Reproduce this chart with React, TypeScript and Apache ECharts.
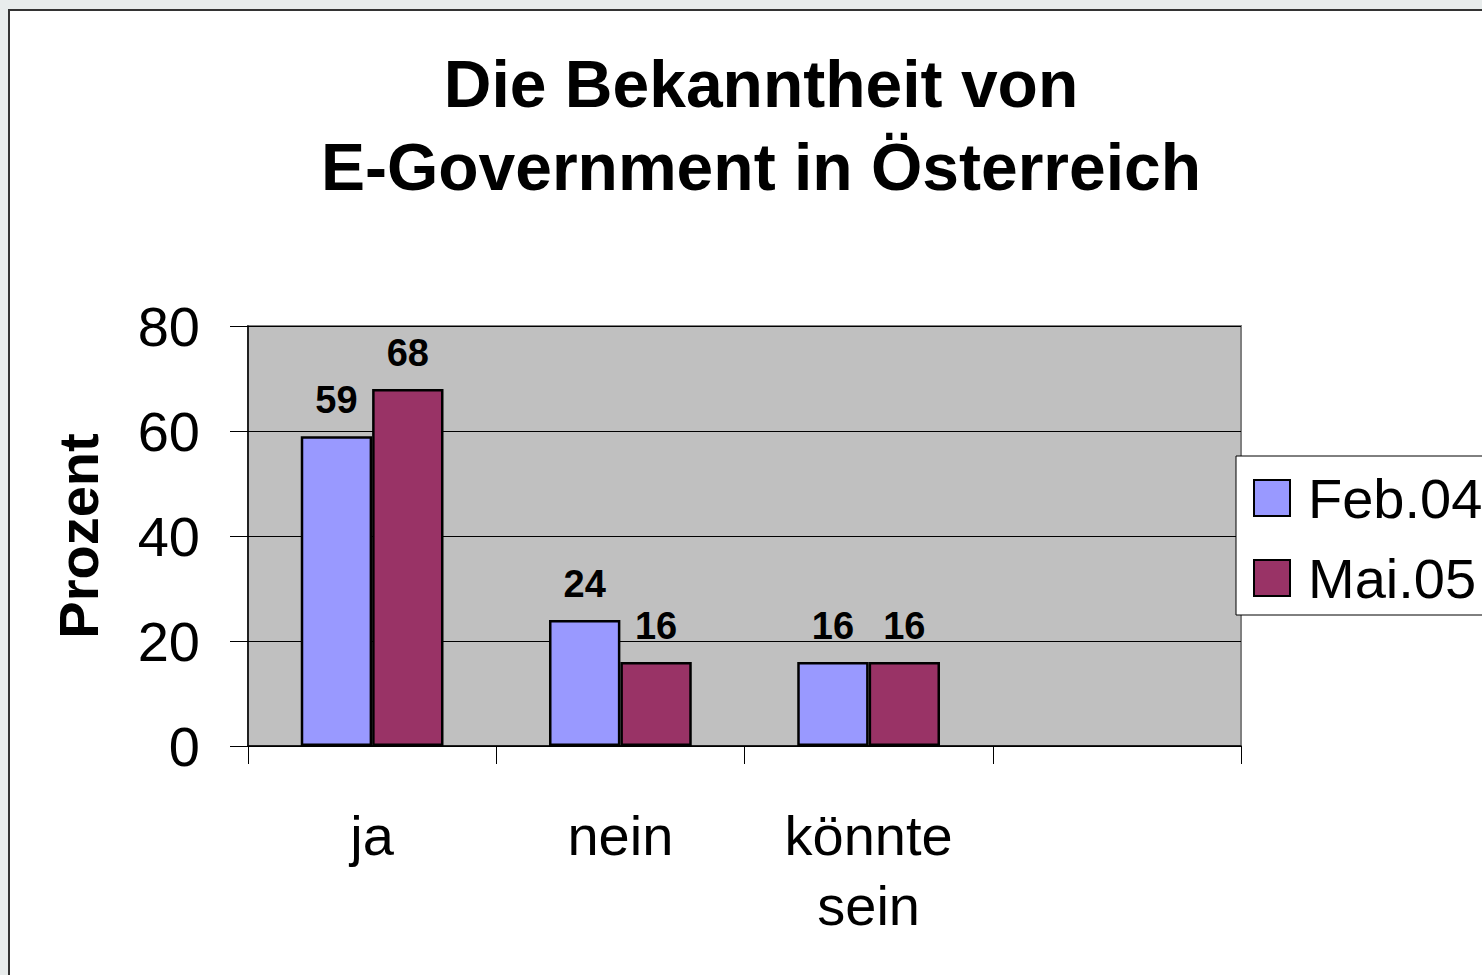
import React, { useEffect, useRef } from "react";
import * as echarts from "echarts";

const categories = ["ja", "nein", "könnte\nsein", ""];
const seriesNames = ["Feb.04", "Mai.05"];
const feb04 = [59, 24, 16, null];
const mai05 = [68, 16, 16, null];
const yTicks = { min: 0, max: 80, interval: 20 };
const titleText = "Die Bekanntheit von\nE-Government in Österreich";
const yAxisName = "Prozent";

const FONT = "'Liberation Sans', Arial, sans-serif";

export default function App() {
  const ref = useRef<HTMLDivElement>(null);
  useEffect(() => {
    if (!ref.current) return;
    const chart = echarts.init(ref.current, null, { renderer: "svg" });
    const labelStyle = {
      show: true,
      position: "top",
      distance: 17,
      fontFamily: FONT,
      fontSize: 38,
      fontWeight: "bold",
      color: "#000",
    };
    chart.setOption({
      animation: false,
      backgroundColor: "transparent",
      title: {
        text: titleText,
        left: 756,
        textAlign: "center",
        top: 37,
        textStyle: {
          fontFamily: FONT,
          fontSize: 66,
          fontWeight: "bold",
          color: "#000",
          lineHeight: 83,
        },
      },
      legend: {
        orient: "vertical",
        left: 1236,
        top: 456,
        data: seriesNames,
        itemWidth: 36,
        itemHeight: 36,
        itemGap: 24,
        icon: "rect",
        padding: [14, 60, 9, 17],
        borderColor: "#000",
        borderWidth: 1,
        backgroundColor: "#fff",
        textStyle: {
          fontFamily: FONT,
          fontSize: 56,
          lineHeight: 56,
          color: "#000",
          padding: [0, 0, 0, 13],
        },
      },
      grid: {
        left: 248,
        right: 1482 - 1241,
        top: 326,
        bottom: 975 - 746,
        show: true,
        backgroundColor: "#C0C0C0",
        borderColor: "#808080",
        borderWidth: 2,
      },
      xAxis: {
        type: "category",
        data: categories,
        axisLine: { show: true, lineStyle: { color: "#000", width: 1.5 } },
        axisTick: { show: true, length: 18, lineStyle: { color: "#000", width: 1 } },
        axisLabel: {
          fontFamily: FONT,
          fontSize: 56,
          color: "#000",
          margin: 54,
          lineHeight: 70,
        },
      },
      yAxis: {
        type: "value",
        min: yTicks.min,
        max: yTicks.max,
        interval: yTicks.interval,
        name: yAxisName,
        nameLocation: "middle",
        nameRotate: 90,
        nameGap: 142,
        nameTextStyle: { fontFamily: FONT, fontSize: 56, fontWeight: "bold", color: "#000" },
        axisLine: { show: true, lineStyle: { color: "#000", width: 1.5 } },
        axisTick: { show: true, length: 18, lineStyle: { color: "#000", width: 1 } },
        axisLabel: { fontFamily: FONT, fontSize: 56, color: "#000", margin: 48 },
        splitLine: { show: true, lineStyle: { color: "#000", width: 1 } },
      },
      series: [
        {
          name: seriesNames[0],
          type: "bar",
          data: feb04,
          barGap: "0%",
          barCategoryGap: "42.5%",
          itemStyle: { color: "#9999FF", borderColor: "#000", borderWidth: 2.5 },
          label: labelStyle,
        },
        {
          name: seriesNames[1],
          type: "bar",
          data: mai05,
          barGap: "0%",
          barCategoryGap: "42.5%",
          itemStyle: { color: "#993366", borderColor: "#000", borderWidth: 2.5 },
          label: labelStyle,
        },
      ],
    });
    return () => chart.dispose();
  }, []);
  return (
    <div
      style={{
        position: "fixed",
        left: 0,
        top: 0,
        width: 1482,
        height: 975,
        background: "#e8ecec",
        overflow: "hidden",
      }}
    >
      <div
        style={{
          position: "absolute",
          left: 8,
          top: 9,
          width: 1482,
          height: 975,
          background: "#fff",
          borderLeft: "2px solid #333",
          borderTop: "2px solid #333",
        }}
      />
      <div
        ref={ref}
        style={{ position: "absolute", left: 0, top: 0, width: 1482, height: 975 }}
      />
    </div>
  );
}
